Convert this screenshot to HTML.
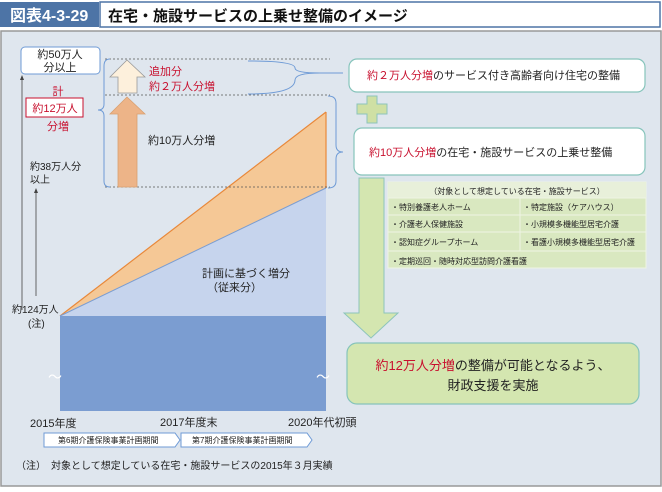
<!DOCTYPE html>
<html><head><meta charset="utf-8"><style>
body{margin:0;width:662px;height:487px;overflow:hidden;background:#fff;font-family:"Liberation Sans","Noto Sans CJK JP",sans-serif;}
svg text{font-family:"Liberation Sans","Noto Sans CJK JP",sans-serif;}
</style></head><body>
<svg width="662" height="487" viewBox="0 0 662 487" xmlns="http://www.w3.org/2000/svg">
<rect x="0" y="0" width="662" height="487" fill="#fff"/>
<rect x="0" y="2" width="99" height="25" fill="#4d74a6"/>
<text x="10" y="21" font-size="16" font-weight="bold" fill="#fff">図表4-3-29</text>
<rect x="100" y="2" width="560" height="25" fill="#fff" stroke="#4d74a6" stroke-width="1.5"/>
<text x="108" y="21" font-size="15" font-weight="bold" fill="#111">在宅・施設サービスの上乗せ整備のイメージ</text>
<rect x="1" y="31" width="660" height="455" fill="#dfe6ee" stroke="#999" stroke-width="1.5"/>
<!-- chart -->
<polygon points="60,316 326,188 326,316" fill="#c6d4ed"/>
<polygon points="60,316 326,112 326,188" fill="#f5c896"/>
<line x1="60" y1="316" x2="326" y2="112" stroke="#e8883a" stroke-width="1.2"/>
<line x1="326" y1="112" x2="326" y2="188" stroke="#e8883a" stroke-width="1.2"/>
<line x1="60" y1="316" x2="326" y2="188" stroke="#7b9dd1" stroke-width="1"/>
<rect x="60" y="316" width="266" height="95" fill="#7b9dd1"/>
<text x="48" y="382" font-size="14" fill="#fff">～</text>
<text x="316" y="382" font-size="14" fill="#fff">～</text>
<g stroke="#555" stroke-dasharray="2,2" stroke-width="0.8">
<line x1="105" y1="59" x2="330" y2="59"/><line x1="105" y1="95" x2="330" y2="95"/><line x1="105" y1="187" x2="330" y2="187"/>
</g>
<polygon points="127,60 145,77 137,77 137,93 118,93 118,77 110,77" fill="#fdf0dc" stroke="#999" stroke-width="0.8"/>
<polygon points="127,97 145,114 137,114 137,187 118,187 118,114 110,114" fill="#edb488" stroke="#d9a070" stroke-width="0.8"/>
<text x="149" y="75" font-size="11" fill="#c8102e">追加分</text>
<text x="149" y="90" font-size="11" fill="#c8102e">約２万人分増</text>
<text x="148" y="144" font-size="11" fill="#222">約10万人分増</text>
<path d="M110,59 Q104,59 104,66 L104,104 Q104,110 98,110 Q104,110 104,116 L104,181 Q104,187 110,187" fill="none" stroke="#6f9bd6" stroke-width="1"/>
<path d="M248,61 Q295,61 295,68 Q295,73 320,73 Q295,73 295,80 Q295,94 248,94" fill="none" stroke="#6f9bd6" stroke-width="1"/>
<line x1="320" y1="73" x2="343" y2="73" stroke="#6f9bd6" stroke-width="1"/>
<path d="M328,96 Q336,96 336,103 L336,145 Q336,152 343,152 Q336,152 336,159 L336,181 Q336,188 328,188" fill="none" stroke="#6f9bd6" stroke-width="1"/>
<!-- left labels -->
<rect x="21" y="47" width="79" height="27" rx="4" fill="#fff" stroke="#6f9bd6"/>
<text x="60" y="58" font-size="11" text-anchor="middle" fill="#222">約50万人</text>
<text x="60" y="71" font-size="11" text-anchor="middle" fill="#222">分以上</text>
<line x1="22" y1="78" x2="22" y2="310" stroke="#444" stroke-width="0.8"/>
<polygon points="22,75 20,80 24,80" fill="#444"/>
<text x="58" y="95" font-size="11" text-anchor="middle" fill="#c8102e">計</text>
<rect x="26" y="98" width="57" height="19" fill="#fff" stroke="#c8102e"/>
<text x="55" y="112" font-size="11" text-anchor="middle" fill="#c8102e">約12万人</text>
<text x="58" y="130" font-size="11" text-anchor="middle" fill="#c8102e">分増</text>
<text x="30" y="170" font-size="10" fill="#222">約38万人分</text>
<text x="30" y="183" font-size="10" fill="#222">以上</text>
<line x1="36" y1="191" x2="36" y2="296" stroke="#444" stroke-width="0.8"/>
<polygon points="36,188 34,193 38,193" fill="#444"/>
<line x1="56" y1="280" x2="56" y2="305" stroke="#444" stroke-width="0"/>
<text x="12" y="313" font-size="10" fill="#222">約124万人</text>
<text x="28" y="327" font-size="10" fill="#222">(注)</text>
<text x="202" y="277" font-size="11" fill="#222">計画に基づく増分</text>
<text x="207" y="291" font-size="11" fill="#222">（従来分）</text>
<text x="30" y="427" font-size="11" fill="#222">2015年度</text>
<text x="160" y="426" font-size="11" fill="#222">2017年度末</text>
<text x="288" y="426" font-size="11" fill="#222">2020年代初頭</text>
<polygon points="44,433 175,433 180,440 175,447 44,447" fill="#fff" stroke="#6f9bd6"/>
<text x="58" y="443" font-size="8" fill="#222">第6期介護保険事業計画期間</text>
<polygon points="181,433 307,433 312,440 307,447 181,447" fill="#fff" stroke="#6f9bd6"/>
<text x="192" y="443" font-size="8" fill="#222">第7期介護保険事業計画期間</text>
<text x="16" y="469" font-size="10" fill="#222">（注）　対象として想定している在宅・施設サービスの2015年３月実績</text>
<!-- right -->
<rect x="349" y="59" width="296" height="33" rx="8" fill="#fff" stroke="#86c4bb" stroke-width="1.2"/>
<text x="367" y="79" font-size="11" fill="#222"><tspan fill="#c8102e">約２万人分増</tspan>のサービス付き高齢者向け住宅の整備</text>
<path d="M367,96 h10 v8 h10 v10 h-10 v9 h-10 v-9 h-10 v-10 h10 z" fill="#cfe0a4" stroke="#8cc4bb" stroke-width="1"/>
<rect x="354" y="128" width="291" height="47" rx="8" fill="#fff" stroke="#86c4bb" stroke-width="1.2"/>
<text x="369" y="156" font-size="11" fill="#222"><tspan fill="#c8102e">約10万人分増</tspan>の在宅・施設サービスの上乗せ整備</text>
<polygon points="359,178 384,178 384,313 398,313 371,338 344,313 359,313" fill="#d4e6b0" stroke="#8cc4bb" stroke-width="1"/>
<rect x="388" y="182" width="258" height="86" fill="#d9e8c0" stroke="#eef4e4" stroke-width="1"/>
<rect x="388" y="182" width="258" height="16" fill="#e8f0da"/>
<g stroke="#eef4e4" stroke-width="1"><line x1="388" y1="198" x2="646" y2="198"/><line x1="388" y1="215" x2="646" y2="215"/><line x1="388" y1="232" x2="646" y2="232"/><line x1="388" y1="251" x2="646" y2="251"/><line x1="520" y1="198" x2="520" y2="251"/></g>
<text x="517" y="194" font-size="8" text-anchor="middle" fill="#222">（対象として想定している在宅・施設サービス）</text>
<g font-size="8" fill="#222">
<text x="391" y="210">・特別養護老人ホーム</text><text x="523" y="210">・特定施設（ケアハウス）</text>
<text x="391" y="227">・介護老人保健施設</text><text x="523" y="227">・小規模多機能型居宅介護</text>
<text x="391" y="245">・認知症グループホーム</text><text x="523" y="245">・看護小規模多機能型居宅介護</text>
<text x="391" y="264">・定期巡回・随時対応型訪問介護看護</text>
</g>
<rect x="347" y="343" width="292" height="61" rx="10" fill="#d4e6b0" stroke="#86c4bb" stroke-width="1.2"/>
<text x="493" y="370" font-size="13" text-anchor="middle" fill="#222"><tspan fill="#c8102e">約12万人分増</tspan>の整備が可能となるよう、</text>
<text x="493" y="390" font-size="13" text-anchor="middle" fill="#222">財政支援を実施</text>
</svg>
</body></html>
